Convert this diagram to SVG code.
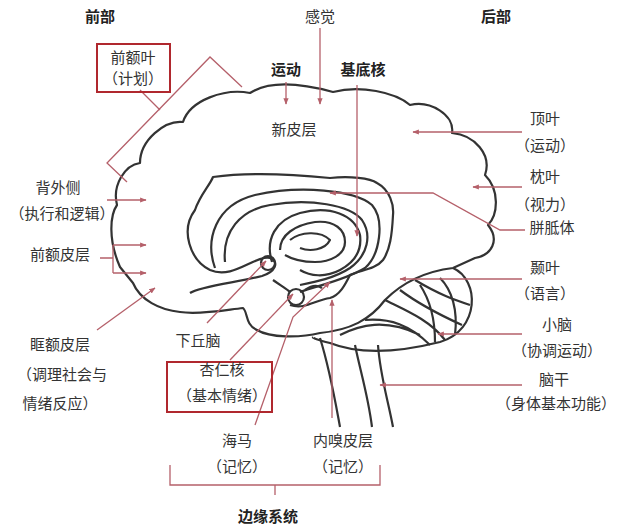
<svg xmlns="http://www.w3.org/2000/svg" width="640" height="529" viewBox="0 0 640 529">
<defs>
<marker id="a" viewBox="0 0 10 10" refX="9" refY="5" markerWidth="5" markerHeight="5" orient="auto"><path d="M0,1 L10,5 L0,9 z" fill="#b5606a"/></marker>
<style>
text{font-family:"Noto Sans CJK SC","Noto Sans",sans-serif;font-size:15px;fill:#333;text-anchor:middle}
.b{font-weight:bold;fill:#222}
.l{fill:none;stroke:#b5606a;stroke-width:1.3}
.ar{marker-end:url(#a)}
.br{fill:none;stroke:#333;stroke-width:2.2;stroke-linejoin:round}
.box{fill:none;stroke:#b0282e;stroke-width:2}
</style>
</defs>
<rect width="640" height="529" fill="#fff"/>
<g id="brain">
<path class="br" d="M120,267 C108,240 110,215 117,205 C112,185 125,165 140,163 C140,140 165,120 183,122 C190,100 225,88 250,93 C270,80 300,83 333,92 C360,85 395,92 410,105 C430,100 455,115 452,133 C475,135 492,155 485,175 C500,190 498,215 488,225 C500,240 492,255 475,258 L453,268 C420,272 400,285 385,300 C370,320 350,330 320,333 C300,338 270,338 257,330 C245,325 248,312 243,308 C225,310 200,315 180,312 C160,310 140,300 133,283 Z"/>
<path class="br" d="M453,268 C480,280 480,330 440,342 C400,352 360,355 330,343 C318,340 312,338 313,337"/>
<path class="br" d="M320,338 C330,370 335,400 340,427 M378,345 C380,375 388,400 393,427 M355,345 C360,370 368,395 372,427"/>
<path class="br" d="M385,300 C405,310 430,320 445,340 M400,290 C420,305 440,315 462,325 M415,280 C440,295 455,300 470,305 M340,335 C360,325 385,318 420,335 M365,320 C390,318 410,325 430,345 M420,285 C430,300 435,320 435,342 M440,278 C452,290 458,310 455,335"/>
<path class="br" d="M190,293 C200,286 240,282 262,276 C275,272 280,262 270,258 C255,255 233,280 210,270 C190,260 180,230 195,210 C200,195 210,185 213,177 C250,172 300,175 330,178 C350,176 370,178 377,183 C390,190 394,205 393,215 C392,235 390,250 383,260 C375,270 360,270 350,275 C345,285 340,295 330,298 C315,300 305,310 290,305"/>
<path class="br" d="M215,268 C205,240 215,205 255,195 C300,185 355,190 372,205 C385,220 380,255 365,268 C345,280 320,285 300,292"/>
<path class="br" d="M225,262 C222,232 240,210 270,205 C310,198 350,205 362,220 C372,235 368,255 350,268 C335,278 315,282 300,285"/>
<path class="br" d="M272,262 C265,240 275,220 300,213 C330,205 355,215 360,235 C362,250 355,262 340,270 C325,278 310,276 300,270"/>
<path class="br" d="M280,250 C280,235 295,225 315,222 C335,220 345,230 345,242 C345,255 330,262 315,262 C300,262 290,258 285,255"/>
<path class="br" d="M290,240 C300,232 320,230 330,240 C325,250 310,252 300,248"/>
<circle class="br" cx="268" cy="263" r="7" fill="#fff"/>
<circle class="br" cx="296" cy="297" r="8" fill="#fff"/>
<path class="br" d="M273,280 C280,285 288,290 290,292 M305,290 C312,285 318,285 322,288"/>
</g>
<g id="connectors">
<path class="l ar" d="M320,28 L320,104"/>
<path class="l ar" d="M286,82 L286,104"/>
<path class="l ar" d="M357,85 L357,236"/>
<path class="l" d="M127,182 L107,163 L210,57 L242,87 M140,90 L160,110"/>
<path class="l ar" d="M522,132 L413,132"/>
<path class="l ar" d="M522,187 L473,187"/>
<path class="l ar" d="M525,230 L500,230 L433,193 L330,193"/>
<path class="l ar" d="M522,279 L400,279"/>
<path class="l ar" d="M522,334 L438,334"/>
<path class="l ar" d="M522,385 L380,385"/>
<path class="l ar" d="M107,200 L146,200"/>
<path class="l" d="M100,258 L113,258 M113,245 L113,273"/>
<path class="l ar" d="M113,245 L146,245"/>
<path class="l ar" d="M113,273 L146,273"/>
<path class="l ar" d="M97,330 L155,288"/>
<path class="l ar" d="M207,323 L266,261"/>
<path class="l ar" d="M230,360 L293,294"/>
<path class="l ar" d="M255,425 L293,317 L330,282"/>
<path class="l ar" d="M332,418 L332,300"/>
<path class="l" d="M170,465 L170,485 L380,485 L380,465 M275,485 L275,495"/>
</g>
<g id="labels">
<text class="b" x="100" y="22">前部</text>
<text class="b" x="496" y="22">后部</text>
<text x="320" y="22">感觉</text>
<text class="b" x="286" y="75">运动</text>
<text class="b" x="363" y="75">基底核</text>
<text x="294" y="135">新皮层</text>
<rect class="box" x="97" y="44" width="73" height="48"/>
<text x="133" y="63">前额叶</text>
<text x="133" y="84">（计划）</text>
<text x="545" y="124">顶叶</text>
<text x="545" y="151">（运动）</text>
<text x="545" y="182">枕叶</text>
<text x="545" y="210">（视力）</text>
<text x="552" y="233">胼胝体</text>
<text x="545" y="273">颞叶</text>
<text x="545" y="299">（语言）</text>
<text x="557" y="330">小脑</text>
<text x="557" y="356">（协调运动）</text>
<text x="554" y="385">脑干</text>
<text x="556" y="409">（身体基本功能）</text>
<text x="58" y="193">背外侧</text>
<text x="62" y="219">（执行和逻辑）</text>
<text x="60" y="260">前额皮层</text>
<text x="60" y="350">眶额皮层</text>
<text x="62" y="380">（调理社会与</text>
<text x="60" y="409">情绪反应）</text>
<text x="198" y="346">下丘脑</text>
<rect class="box" x="167" y="362" width="105" height="50"/>
<text x="222" y="375">杏仁核</text>
<text x="222" y="401">（基本情绪）</text>
<text x="237" y="446">海马</text>
<text x="237" y="472">（记忆）</text>
<text x="343" y="446">内嗅皮层</text>
<text x="343" y="472">（记忆）</text>
<text class="b" x="268" y="522">边缘系统</text>
</g>
</svg>
